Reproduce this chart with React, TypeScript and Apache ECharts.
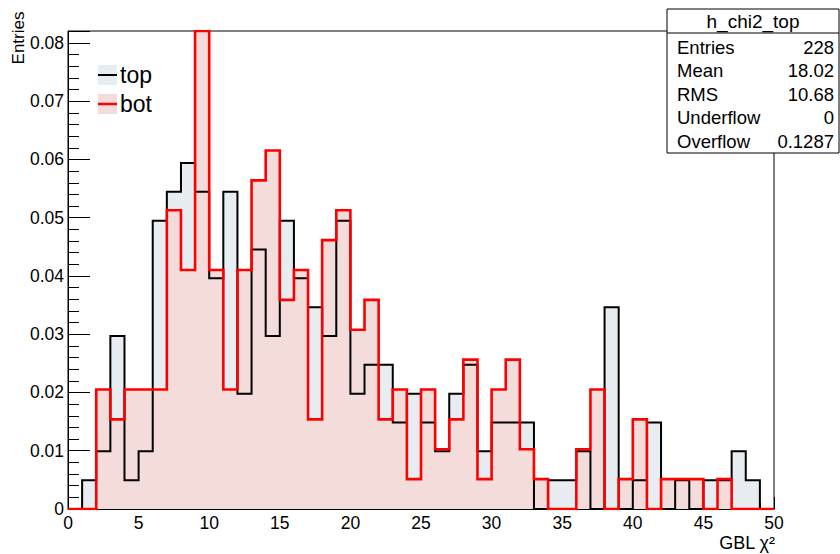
import React, { useEffect, useRef } from "react";
import * as echarts from "echarts";

// Bin edges of the GBL chi2 histograms: 50 bins of width 1 from 0 to 50
const binEdges = [
  0, 1, 2, 3, 4, 5, 6, 7, 8, 9, 10, 11, 12, 13, 14, 15, 16, 17, 18, 19, 20, 21, 22, 23, 24, 25,
  26, 27, 28, 29, 30, 31, 32, 33, 34, 35, 36, 37, 38, 39, 40, 41, 42, 43, 44, 45, 46, 47, 48, 49, 50,
];

// Normalised bin contents, "top" half of the detector
const topValues = [
  0, 0.00495, 0.0099, 0.0297, 0.00495, 0.0099, 0.0495, 0.05446, 0.05941, 0.05446,
  0.0396, 0.05446, 0.0198, 0.04455, 0.0297, 0.0495, 0.0396, 0.03465, 0.0297, 0.0495,
  0.0198, 0.02475, 0.02475, 0.01485, 0.0198, 0.01485, 0.0099, 0.0198, 0.02475, 0.0099,
  0.01485, 0.01485, 0.01485, 0, 0.00495, 0.00495, 0.0099, 0, 0.03465, 0,
  0.00495, 0.01485, 0, 0.00495, 0, 0.00495, 0.00495, 0.0099, 0.00495, 0,
];

// Normalised bin contents, "bot" half of the detector
const botValues = [
  0, 0, 0.02051, 0.01538, 0.02051, 0.02051, 0.02051, 0.05128, 0.04103, 0.08205,
  0.04103, 0.02051, 0.04103, 0.05641, 0.06154, 0.0359, 0.04103, 0.01538, 0.04615, 0.05128,
  0.03077, 0.0359, 0.01538, 0.02051, 0.00513, 0.02051, 0.01026, 0.01538, 0.02564, 0.00513,
  0.02051, 0.02564, 0.01026, 0.00513, 0, 0, 0.01026, 0.02051, 0, 0.00513,
  0.01538, 0, 0.00513, 0.00513, 0.00513, 0, 0.00513, 0, 0, 0,
];

const yTickLabels = ["0", "0.01", "0.02", "0.03", "0.04", "0.05", "0.06", "0.07", "0.08"];

const statsTitle = "h_chi2_top";
const statsNames = ["Entries", "Mean", "RMS", "Underflow", "Overflow"];
const statsValues = ["228", "18.02", "10.68", "0", "0.1287"];

const FONT = "'Liberation Sans', Arial, Helvetica, sans-serif";

// Step outline: one point per lower bin edge, plus the closing upper edge
function stepData(values: number[]): number[][] {
  const pts = values.map((v, i) => [binEdges[i], v]);
  pts.push([binEdges[binEdges.length - 1], values[values.length - 1]]);
  return pts;
}

export default function App() {
  const ref = useRef<HTMLDivElement | null>(null);

  useEffect(() => {
    if (!ref.current) return;
    const chart = echarts.init(ref.current, undefined, { renderer: "svg" });

    const topData = stepData(topValues);
    const botData = stepData(botValues);
    const yMax = Math.max(...botValues, ...topValues);

    const gridLeft = 68;
    const gridRight = 66;
    const gridTop = 31;
    const gridBottom = 45;

    const statsX = 667;
    const statsY = 9;
    const statsW = 172;
    const statsH = 144;
    const rowYs = [47, 70, 94, 117, 141];

    const graphics: any[] = [
      // legend
      { type: "rect", shape: { x: 98, y: 65, width: 19, height: 20 }, style: { fill: "#e8edf2" }, z: 10 },
      { type: "line", shape: { x1: 98, y1: 75, x2: 117, y2: 75 }, style: { stroke: "#000", lineWidth: 2 }, z: 11 },
      { type: "text", x: 120, y: 75, style: { text: "top", font: `23px ${FONT}`, fill: "#000", textVerticalAlign: "middle" }, z: 11 },
      { type: "rect", shape: { x: 98, y: 94, width: 19, height: 20 }, style: { fill: "#f3dcda" }, z: 10 },
      { type: "line", shape: { x1: 98, y1: 104, x2: 117, y2: 104 }, style: { stroke: "#ff0000", lineWidth: 2.5 }, z: 11 },
      { type: "text", x: 120, y: 104, style: { text: "bot", font: `23px ${FONT}`, fill: "#000", textVerticalAlign: "middle" }, z: 11 },
      // axis titles
      {
        type: "text",
        x: 775,
        y: 543,
        style: { text: "GBL χ²", font: `18px ${FONT}`, fill: "#000", textAlign: "right", textVerticalAlign: "middle" },
        z: 11,
      },
      {
        type: "text",
        x: 18,
        y: 38,
        rotation: Math.PI / 2,
        style: { text: "Entries", font: `17px ${FONT}`, fill: "#000", textAlign: "center", textVerticalAlign: "middle" },
        z: 11,
      },
      // statistics box
      {
        type: "rect",
        shape: { x: statsX, y: statsY, width: statsW, height: statsH },
        style: { fill: "#fff", stroke: "#000", lineWidth: 1 },
        z: 20,
      },
      {
        type: "line",
        shape: { x1: statsX, y1: 33, x2: statsX + statsW, y2: 33 },
        style: { stroke: "#000", lineWidth: 1 },
        z: 21,
      },
      {
        type: "text",
        x: statsX + statsW / 2,
        y: 21,
        style: { text: statsTitle, font: `19px ${FONT}`, fill: "#000", textAlign: "center", textVerticalAlign: "middle" },
        z: 21,
      },
    ];
    statsNames.forEach((name, i) => {
      graphics.push({
        type: "text",
        x: 677,
        y: rowYs[i],
        style: { text: name, font: `18.5px ${FONT}`, fill: "#000", textVerticalAlign: "middle" },
        z: 21,
      });
      graphics.push({
        type: "text",
        x: 834,
        y: rowYs[i],
        style: { text: statsValues[i], font: `18.5px ${FONT}`, fill: "#000", textAlign: "right", textVerticalAlign: "middle" },
        z: 21,
      });
    });

    const areaOnly = (data: number[][], fill: string) => ({
      type: "line",
      data,
      step: "end",
      symbol: "none",
      lineStyle: { width: 0, opacity: 0 },
      areaStyle: { color: fill, opacity: 1 },
      silent: true,
    });
    const lineOnly = (data: number[][], stroke: string, width: number) => ({
      type: "line",
      data,
      step: "end",
      symbol: "none",
      lineStyle: { color: stroke, width, join: "miter", cap: "butt" },
      silent: true,
    });

    chart.setOption({
      animation: false,
      backgroundColor: "#fff",
      grid: {
        left: gridLeft,
        right: gridRight,
        top: gridTop,
        bottom: gridBottom,
        show: true,
        borderColor: "#000",
        borderWidth: 1,
        backgroundColor: "transparent",
      },
      xAxis: {
        type: "value",
        min: binEdges[0],
        max: binEdges[binEdges.length - 1],
        interval: 5,
        axisLine: { show: true, onZero: false, lineStyle: { color: "#000", width: 1 } },
        axisTick: { show: true, inside: true, length: 12, lineStyle: { color: "#000" } },
        minorTick: { show: true, splitNumber: 5, length: 6, lineStyle: { color: "#000" } },
        axisLabel: { color: "#000", fontSize: 17.5, fontFamily: FONT, margin: 5 },
        splitLine: { show: false },
      },
      yAxis: {
        type: "value",
        min: 0,
        max: yMax,
        interval: 0.01,
        axisLine: { show: true, onZero: false, lineStyle: { color: "#000", width: 1 } },
        axisTick: { show: true, inside: true, length: 22, lineStyle: { color: "#000" } },
        minorTick: { show: true, splitNumber: 5, length: 11, lineStyle: { color: "#000" } },
        axisLabel: {
          color: "#000",
          fontSize: 17.5,
          fontFamily: FONT,
          margin: 4,
          formatter: (v: number) => {
            const idx = Math.round(v / 0.01);
            if (Math.abs(v - idx * 0.01) > 1e-6) return "";
            return yTickLabels[idx] ?? "";
          },
        },
        splitLine: { show: false },
      },
      series: [
        areaOnly(topData, "#e8edf2"),
        areaOnly(botData, "#f3dcda"),
        lineOnly(topData, "#000000", 2),
        lineOnly(botData, "#ff0000", 2.6),
      ],
      graphic: graphics,
    });

    return () => chart.dispose();
  }, []);

  return (
    <div
      ref={ref}
      style={{ position: "fixed", left: 0, top: 0, width: 840, height: 554, background: "#fff" }}
    />
  );
}
